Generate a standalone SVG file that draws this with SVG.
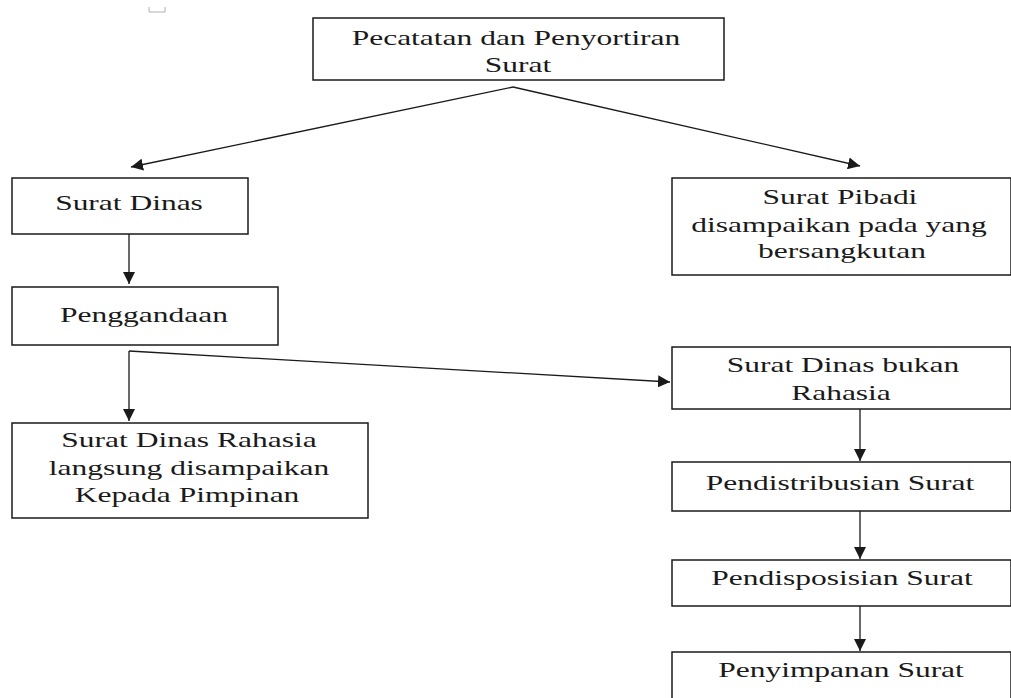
<svg xmlns="http://www.w3.org/2000/svg" width="1011" height="698" viewBox="0 0 1011 698">
<style>
.box{fill:#fff;stroke:#1a1a1a;stroke-width:1.5}
.t{font-family:"Liberation Serif","Times New Roman",serif;font-size:21px;fill:#1a1a1a;text-anchor:middle}
.c{fill:none;stroke:#1a1a1a;stroke-width:1.3}
</style>
<defs>
<marker id="ah" markerUnits="userSpaceOnUse" markerWidth="12" markerHeight="12" viewBox="0 0 10 10" refX="10" refY="5" orient="auto">
<path d="M0,0 L10,5 L0,10 z" fill="#1a1a1a"/>
</marker>
</defs>
<rect width="1011" height="698" fill="#fff"/>
<path d="M149,7 V12 H165 V7" fill="none" stroke="#b0b0b0" stroke-width="1"/>
<g id="connectors">
<path class="c" d="M513,87 L131,167" marker-end="url(#ah)"/>
<path class="c" d="M513,87 L860,166" marker-end="url(#ah)"/>
<path class="c" d="M125,212 V234"/>
<path class="c" d="M129,234 V284" marker-end="url(#ah)"/>
<path class="c" d="M129,351 V421" marker-end="url(#ah)"/>
<path class="c" d="M129,351 L670,382" marker-end="url(#ah)"/>
<path class="c" d="M860,409 V461" marker-end="url(#ah)"/>
<path class="c" d="M860,511 V559" marker-end="url(#ah)"/>
<path class="c" d="M860,606 V651" marker-end="url(#ah)"/>
</g>
<g id="n-pecatatan">
<rect class="box" x="313" y="18" width="411" height="62"/>
<text class="t" transform="translate(516,45) scale(1.5,1)">Pecatatan dan Penyortiran</text>
<text class="t" transform="translate(518,72) scale(1.5,1)">Surat</text>
</g>
<g id="n-surat-dinas">
<rect class="box" x="12" y="178" width="236" height="56"/>
<text class="t" transform="translate(129,210) scale(1.5,1)">Surat Dinas</text>
</g>
<g id="n-penggandaan">
<rect class="box" x="12" y="287" width="266" height="58"/>
<text class="t" transform="translate(144,322) scale(1.5,1)">Penggandaan</text>
</g>
<g id="n-rahasia">
<rect class="box" x="12" y="423" width="356" height="95"/>
<text class="t" transform="translate(189,447) scale(1.5,1)">Surat Dinas Rahasia</text>
<text class="t" transform="translate(189,475) scale(1.5,1)">langsung disampaikan</text>
<text class="t" transform="translate(187,502) scale(1.5,1)">Kepada Pimpinan</text>
</g>
<g id="n-pribadi">
<rect class="box" x="672" y="178" width="339" height="97"/>
<text class="t" transform="translate(840,204) scale(1.5,1)">Surat Pibadi</text>
<text class="t" transform="translate(839,232) scale(1.5,1)">disampaikan pada yang</text>
<text class="t" transform="translate(842,258) scale(1.5,1)">bersangkutan</text>
</g>
<g id="n-bukan-rahasia">
<rect class="box" x="672" y="347" width="339" height="62"/>
<text class="t" transform="translate(843,372) scale(1.5,1)">Surat Dinas bukan</text>
<text class="t" transform="translate(841,400) scale(1.5,1)">Rahasia</text>
</g>
<g id="n-pendistribusian">
<rect class="box" x="672" y="462" width="339" height="49"/>
<text class="t" transform="translate(840,490) scale(1.5,1)">Pendistribusian Surat</text>
</g>
<g id="n-pendisposisian">
<rect class="box" x="672" y="560" width="339" height="46"/>
<text class="t" transform="translate(842,585) scale(1.5,1)">Pendisposisian Surat</text>
</g>
<g id="n-penyimpanan">
<rect class="box" x="672" y="652" width="339" height="60"/>
<text class="t" transform="translate(841,677) scale(1.5,1)">Penyimpanan Surat</text>
</g>
</svg>
